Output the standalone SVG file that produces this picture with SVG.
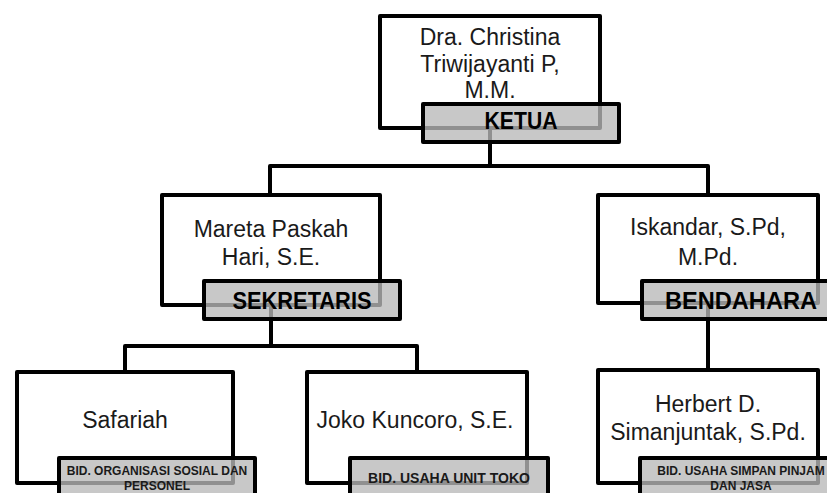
<svg xmlns="http://www.w3.org/2000/svg" width="827" height="493" viewBox="0 0 827 493">
<style>
.box{fill:#fff;stroke:#000;stroke-width:4;stroke-linejoin:round}
.lbl{fill:#b8b8b8;fill-opacity:0.78;stroke:#000;stroke-width:4;stroke-linejoin:round}
.name{font-family:"Liberation Sans",Arial,sans-serif;font-size:23px;fill:#1a1a1a;text-anchor:middle}
.role{font-family:"Liberation Sans",Arial,sans-serif;font-weight:bold;font-size:23px;fill:#000;text-anchor:middle}
.sub{font-family:"Liberation Sans",Arial,sans-serif;font-weight:bold;font-size:12px;fill:#1a1a1a;text-anchor:middle}
.con{fill:none;stroke:#000;stroke-width:4;stroke-linejoin:round}
</style>
<rect width="827" height="493" fill="#fff"/>
<g id="connectors">
<path class="con" d="M490 128V166M270 195V166H708V195"/>
<path class="con" d="M271 305V346M125 372V346H417V372"/>
<path class="con" d="M708 303V370"/>
</g>
<g id="ketua">
<rect class="box" x="380" y="16" width="220" height="112"/>
<text class="name" x="490" y="45">Dra. Christina</text>
<text class="name" x="490" y="72">Triwijayanti P,</text>
<text class="name" x="490" y="98">M.M.</text>
<rect class="lbl" x="423" y="104" width="196" height="38"/>
<text class="role" x="521" y="129" textLength="73" lengthAdjust="spacingAndGlyphs">KETUA</text>
</g>
<g id="sekretaris">
<rect class="box" x="162" y="195" width="218" height="110"/>
<text class="name" x="271" y="237">Mareta Paskah</text>
<text class="name" x="271" y="265">Hari, S.E.</text>
<rect class="lbl" x="204" y="281" width="196" height="38"/>
<text class="role" x="302" y="309" textLength="139" lengthAdjust="spacingAndGlyphs">SEKRETARIS</text>
</g>
<g id="bendahara">
<rect class="box" x="598" y="195" width="220" height="108"/>
<text class="name" x="708" y="235">Iskandar, S.Pd,</text>
<text class="name" x="708" y="265">M.Pd.</text>
<rect class="lbl" x="642" y="281" width="196" height="38"/>
<text class="role" x="741" y="309" textLength="152" lengthAdjust="spacingAndGlyphs">BENDAHARA</text>
</g>
<g id="safariah">
<rect class="box" x="17" y="372" width="216" height="111"/>
<text class="name" x="125" y="428">Safariah</text>
<rect class="lbl" x="59" y="458" width="196" height="44"/>
<text class="sub" x="157" y="475">BID. ORGANISASI SOSIAL DAN</text>
<text class="sub" x="157" y="490">PERSONEL</text>
</g>
<g id="joko">
<rect class="box" x="307" y="372" width="220" height="111"/>
<text class="name" x="415" y="428">Joko Kuncoro, S.E.</text>
<rect class="lbl" x="350" y="458" width="198" height="44"/>
<text class="sub" x="449" y="483" style="font-size:14px">BID. USAHA UNIT TOKO</text>
</g>
<g id="herbert">
<rect class="box" x="598" y="370" width="220" height="113"/>
<text class="name" x="708" y="412">Herbert D.</text>
<text class="name" x="708" y="440">Simanjuntak, S.Pd.</text>
<rect class="lbl" x="640" y="458" width="202" height="44"/>
<text class="sub" x="741" y="475">BID. USAHA SIMPAN PINJAM</text>
<text class="sub" x="741" y="490">DAN JASA</text>
</g>
</svg>
